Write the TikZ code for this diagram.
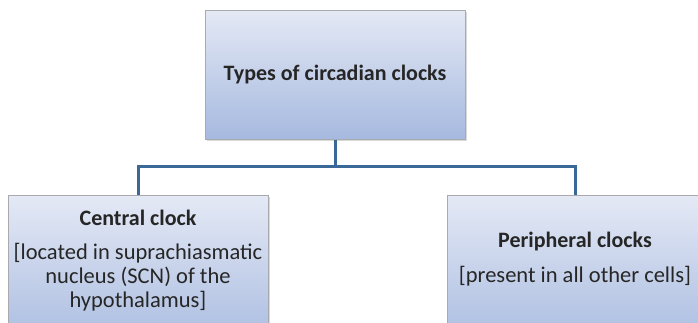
\documentclass[tikz,border=0pt]{standalone}
\usepackage{fontspec}
\setmainfont{Carlito}
\usetikzlibrary{shadows}
\definecolor{boxtop}{HTML}{E4E9F5}
\definecolor{boxbot}{HTML}{A6B9DF}
\definecolor{boxline}{HTML}{A8AAAE}
\definecolor{linkblue}{HTML}{3A6898}
\begin{document}
\begin{tikzpicture}[x=1pt, y=-1pt,
    clockbox/.style={draw=boxline, line width=1pt, top color=boxtop, bottom color=boxbot,
        drop shadow={shadow xshift=2pt, shadow yshift=-2pt, opacity=0.3}},
    link/.style={linkblue, line width=3pt},
    headtext/.style={font=\bfseries\fontsize{22}{24}\selectfont, text=black!85},
    bodytext/.style={font=\fontsize{22.5}{24}\selectfont, text=black!85, align=center}]
    \useasboundingbox (0,0) rectangle (698,322);
    \clip (0,0) rectangle (698,322);
    % boxes
    \node[clockbox, minimum width=260pt, minimum height=129pt] (types) at (335,74.5) {};
    \node[clockbox, minimum width=260pt, minimum height=160pt] (central) at (138,275) {};
    \node[clockbox, minimum width=256pt, minimum height=160pt] (peripheral) at (575,275) {};
    % connectors
    \coordinate (split) at (335,166);
    \draw[link] (types.south) -- (split);
    \draw[link] (split) -| (central.north);
    \draw[link] (split) -| (peripheral.north);
    % texts
    \node[headtext] (typeslabel) at (types.center) {Types of circadian clocks};
    \node[headtext] (centrallabel) at (138,218) {Central clock};
    \node[bodytext] (centralnote) at (138,277)
        {[located in suprachiasmatic\\nucleus (SCN) of the\\hypothalamus]};
    \node[headtext] (peripherallabel) at (575,242) {Peripheral clocks};
    \node[bodytext] (peripheralnote) at (575,276) {[present in all other cells]};
\end{tikzpicture}
\end{document}
